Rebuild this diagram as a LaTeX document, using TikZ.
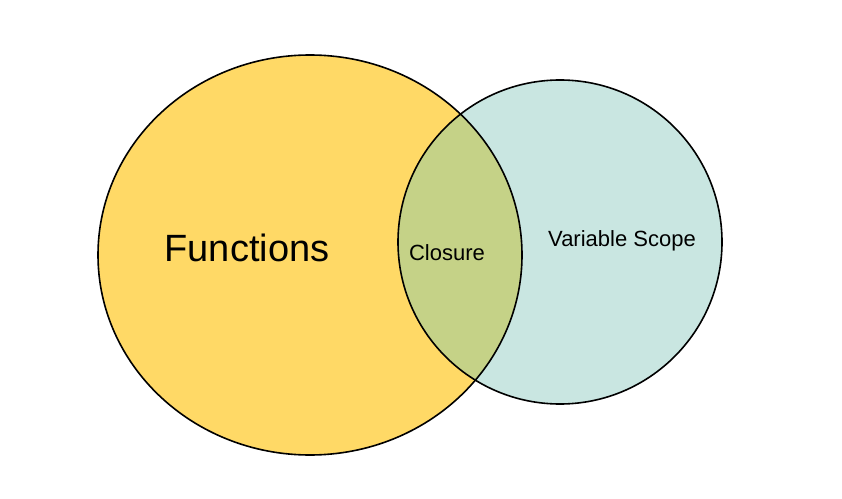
\documentclass[tikz,border=0pt]{standalone}
\usepackage{fontspec}
\setmainfont{Liberation Sans}
\usepackage{xcolor}
\usepackage{tikz}

\definecolor{funcyellow}{HTML}{FFD966}
\definecolor{scopeteal}{HTML}{C9E6E1}
\definecolor{closuregreen}{HTML}{C5D287}

\begin{document}
\begin{tikzpicture}[x=0.75pt,y=-0.75pt,line width=1.2pt]
    \useasboundingbox (0,0) rectangle (842,499);
    % fills
    \fill[funcyellow] (310,255) ellipse [x radius=212,y radius=200];
    \fill[scopeteal] (560,242) circle [radius=162];
    \begin{scope}
        \clip (560,242) circle [radius=162];
        \fill[closuregreen] (310,255) ellipse [x radius=212,y radius=200];
    \end{scope}
    % outlines
    \draw (310,255) ellipse [x radius=212,y radius=200];
    \draw (560,242) circle [radius=162];
    % labels
    \node (func) at (247,248) {\fontsize{28.5}{32}\selectfont Functions};
    \node (closure) at (447,253) {\fontsize{16.5}{20}\selectfont Closure};
    \node (scope) at (622,241) {\fontsize{16.5}{20}\selectfont Variable Scope};
\end{tikzpicture}
\end{document}
